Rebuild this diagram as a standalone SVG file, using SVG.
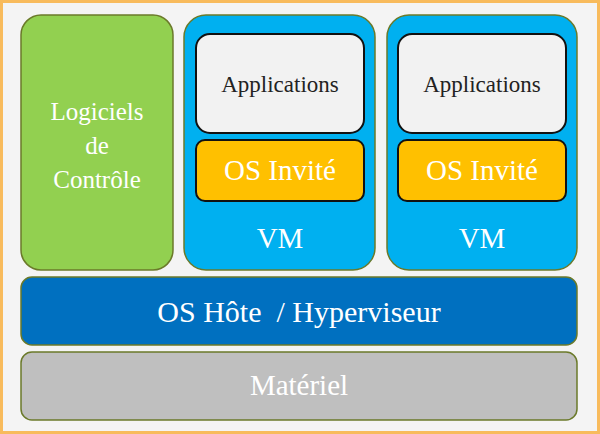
<svg xmlns="http://www.w3.org/2000/svg" width="600" height="434" viewBox="0 0 600 434">
<style>
text{font-family:"Liberation Serif","DejaVu Serif",serif;text-anchor:middle;dominant-baseline:central}
.box{stroke:#6b7a2a;stroke-width:1.5}
.inner{stroke:#111;stroke-width:2}
.w{fill:#ffffff}
</style>
<rect x="1.5" y="1.5" width="597" height="431" fill="#f4f4f4" stroke="#f8bb5c" stroke-width="3"/>
<g id="logiciels">
<rect class="box" x="21" y="15" width="152" height="255" rx="20" fill="#92d050"/>
<text class="w" x="97" y="111" font-size="25">Logiciels</text>
<text class="w" x="97" y="145" font-size="25">de</text>
<text class="w" x="97" y="179" font-size="25">Contrôle</text>
</g>
<g id="vm1">
<rect class="box" x="184" y="15" width="191" height="255" rx="22" fill="#00b0f0"/>
<g id="apps1">
<rect class="inner" x="196" y="34" width="168" height="99" rx="14" fill="#f2f2f2"/>
<text x="280" y="84" font-size="23" fill="#222">Applications</text>
</g>
<g id="os1">
<rect class="inner" x="196" y="140" width="168" height="61" rx="9" fill="#ffc000"/>
<text class="w" x="280" y="170" font-size="29">OS Invité</text>
</g>
<text class="w" x="280" y="238" font-size="29">VM</text>
</g>
<g id="vm2">
<rect class="box" x="387" y="15" width="190" height="255" rx="22" fill="#00b0f0"/>
<g id="apps2">
<rect class="inner" x="398" y="34" width="168" height="99" rx="14" fill="#f2f2f2"/>
<text x="482" y="84" font-size="23" fill="#222">Applications</text>
</g>
<g id="os2">
<rect class="inner" x="398" y="140" width="168" height="61" rx="9" fill="#ffc000"/>
<text class="w" x="482" y="170" font-size="29">OS Invité</text>
</g>
<text class="w" x="482" y="238" font-size="29">VM</text>
</g>
<g id="hote">
<rect class="box" x="21" y="277" width="556" height="68" rx="11" fill="#0070c0"/>
<text class="w" x="299" y="311" font-size="30" xml:space="preserve">OS Hôte  / Hyperviseur</text>
</g>
<g id="materiel">
<rect class="box" x="21" y="352" width="556" height="68" rx="11" fill="#bfbfbf"/>
<text class="w" x="299" y="385" font-size="29">Matériel</text>
</g>
<g id="connectors"></g>
</svg>
